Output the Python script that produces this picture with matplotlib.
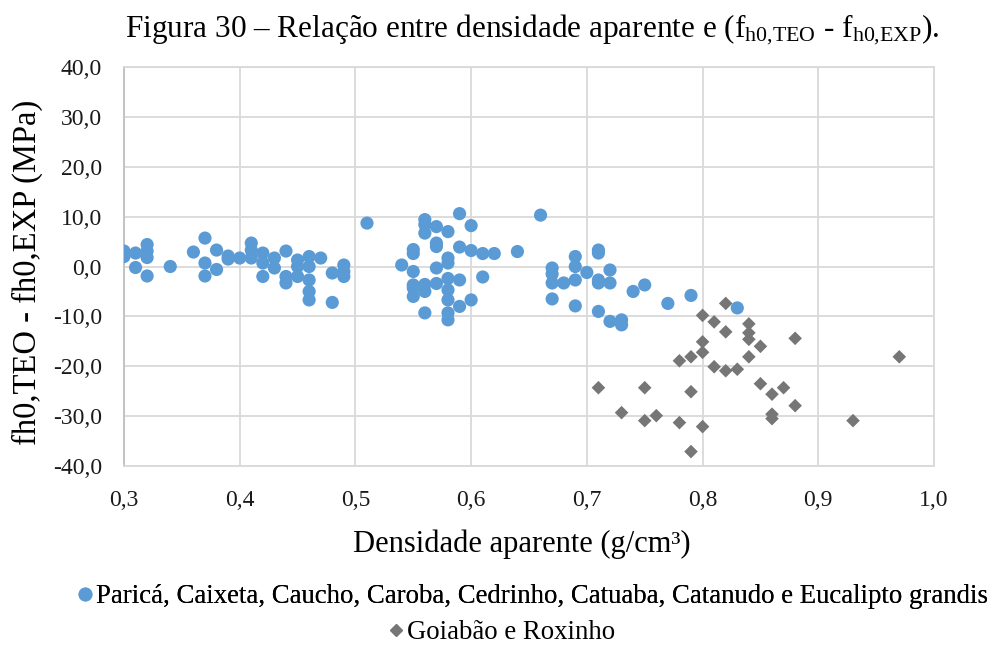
import matplotlib
matplotlib.use('Agg')
import matplotlib.pyplot as plt
from matplotlib.lines import Line2D

# =====================================================
# DATA
# =====================================================

blue_label = 'Paricá, Caixeta, Caucho, Caroba, Cedrinho, Catuaba, Catanudo e Eucalipto grandis'
gray_label = 'Goiabão e Roxinho'

blue_x = [0.30, 0.30, 0.31, 0.31, 0.32, 0.32, 0.32, 0.32, 0.34, 0.36,
          0.37, 0.38, 0.37, 0.37, 0.38, 0.39, 0.39, 0.40,
          0.41, 0.41, 0.41, 0.42, 0.42, 0.42, 0.43, 0.43, 0.44, 0.44,
          0.44, 0.45, 0.45, 0.45, 0.46, 0.46, 0.46, 0.46, 0.46, 0.47,
          0.48, 0.48, 0.49, 0.49, 0.49, 0.51,
          0.54, 0.55, 0.55, 0.55, 0.55, 0.55, 0.55, 0.56, 0.56, 0.56,
          0.56, 0.56, 0.56, 0.57, 0.57, 0.57, 0.57, 0.57, 0.58, 0.58,
          0.58, 0.58, 0.58, 0.58, 0.58, 0.58, 0.59, 0.59, 0.59, 0.59,
          0.60, 0.60, 0.60, 0.61, 0.61, 0.62, 0.64,
          0.66, 0.67, 0.67, 0.67, 0.67, 0.68, 0.69, 0.69, 0.69, 0.69,
          0.70, 0.71, 0.71, 0.71, 0.71, 0.71, 0.72, 0.72, 0.72, 0.73,
          0.73, 0.74, 0.75, 0.77, 0.79, 0.83]
blue_y = [3.1, 2.0, 2.7, -0.2, 4.4, 3.1, 1.8, -1.9, 0.0, 2.9,
          5.7, 3.3, 0.7, -1.9, -0.6, 2.1, 1.5, 1.7,
          4.7, 3.3, 1.7, 2.7, 0.7, -2.0, 1.7, -0.3, 3.1, -2.0,
          -3.3, 1.3, 0.0, -2.0, 2.0, 0.0, -2.7, -5.0, -6.7, 1.7,
          -1.3, -7.2, 0.3, -2.0, -1.0, 8.7,
          0.3, 3.4, 2.6, -1.0, -3.7, -4.3, -6.0, 9.4, 8.4, 6.7,
          -3.6, -5.0, -9.3, 8.0, 4.7, 4.0, -0.3, -3.4, 7.0, 1.7,
          0.7, -2.4, -4.7, -6.7, -9.3, -10.7, 10.6, 3.9, -2.7, -8.0,
          8.2, 3.2, -6.7, 2.6, -2.1, 2.6, 3.0,
          10.3, -0.3, -1.5, -3.3, -6.5, -3.3, 2.0, 0.0, -2.7, -7.9,
          -1.2, 3.3, 2.7, -2.7, -3.3, -9.0, -0.7, -3.3, -11.0, -10.7,
          -11.7, -5.0, -3.7, -7.4, -5.8, -8.3]

gray_x = [0.82, 0.80, 0.81, 0.82, 0.84, 0.84, 0.84, 0.85, 0.88, 0.80,
          0.80, 0.79, 0.78, 0.84, 0.81, 0.82, 0.83, 0.97, 0.71, 0.75,
          0.79, 0.85, 0.86, 0.87, 0.88, 0.86, 0.86, 0.73, 0.75, 0.76,
          0.78, 0.80, 0.79, 0.93]
gray_y = [-7.4, -9.8, -11.1, -13.1, -11.5, -13.3, -14.6, -16.0, -14.4, -15.1,
          -17.2, -18.1, -18.9, -18.1, -20.1, -20.9, -20.6, -18.1, -24.3, -24.3,
          -25.1, -23.5, -25.6, -24.3, -27.9, -29.6, -30.5, -29.3, -30.9, -29.9,
          -31.3, -32.1, -37.1, -30.9]

x_ticks = [0.3, 0.4, 0.5, 0.6, 0.7, 0.8, 0.9, 1.0]
y_ticks = [-40, -30, -20, -10, 0, 10, 20, 30, 40]

# =====================================================
# STYLE
# =====================================================

plt.rcParams['font.family'] = ['Liberation Serif', 'DejaVu Serif']
plt.rcParams['mathtext.fontset'] = 'custom'
plt.rcParams['mathtext.rm'] = 'Liberation Serif'
plt.rcParams['mathtext.it'] = 'Liberation Serif:italic'

BLUE = '#5b9bd5'
GRAY = '#767676'
GRID = '#d9d9d9'


def comma(v, nd):
    return f'{v:.{nd}f}'.replace('.', ',')


fig = plt.figure(figsize=(9.95, 6.46), dpi=100)
ax = fig.add_axes([0.1246, 0.2786, 0.8141, 0.6177])

ax.scatter(blue_x, blue_y, s=90, color=BLUE, edgecolors='none', zorder=3)
ax.scatter(gray_x, gray_y, s=48, marker='D', color=GRAY, edgecolors='none', zorder=3)

ax.set_xlim(0.3, 1.0)
ax.set_ylim(-40, 40)
ax.set_xticks(x_ticks)
ax.set_xticklabels([comma(v, 1) for v in x_ticks])
ax.set_yticks(y_ticks)
ax.set_yticklabels([comma(v, 1) for v in y_ticks])
ax.tick_params(axis='both', length=0, labelsize=17, colors='#1a1a1a')
ax.tick_params(axis='x', pad=17)
ax.tick_params(axis='y', pad=16)

ax.grid(True, color=GRID, linewidth=1.3)
ax.set_axisbelow(True)
for side in ['top', 'right', 'bottom']:
    ax.spines[side].set_color(GRID)
    ax.spines[side].set_linewidth(1.3)
ax.spines['left'].set_color('#bfbfbf')
ax.spines['left'].set_linewidth(1.3)

ax.set_xlabel('Densidade aparente (g/cm³)', fontsize=22)
ax.xaxis.set_label_coords(0.491, -0.16)
ax.set_ylabel('fh0,TEO - fh0,EXP (MPa)', fontsize=23.5)
ax.yaxis.set_label_coords(-0.1, 0.486)

fig.text(0.535, 0.953,
         r'Figura 30 – Relação entre densidade aparente e ($\mathregular{f_{h0{,}TEO}}$ - $\mathregular{f_{h0{,}EXP}}$).',
         ha='center', va='center', fontsize=22.5)

# two legend rows, each centred on its own
h1 = Line2D([], [], linestyle='none', marker='o', markersize=9, color=BLUE)
h2 = Line2D([], [], linestyle='none', marker='D', markersize=6, color=GRAY)
leg1 = fig.legend([h1], [blue_label], loc='center', bbox_to_anchor=(0.536, 0.076),
                  frameon=False, fontsize=19.3, handlelength=0.5, handletextpad=0.15)
fig.add_artist(leg1)
fig.legend([h2], [gray_label], loc='center', bbox_to_anchor=(0.505, 0.021),
           frameon=False, fontsize=19.3, handlelength=0.5, handletextpad=0.15)

fig.savefig('out.png', dpi=100)
